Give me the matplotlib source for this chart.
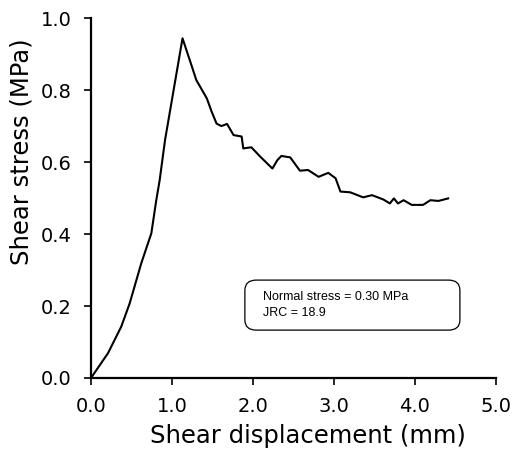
import matplotlib
matplotlib.use("Agg")
import matplotlib.pyplot as plt
from matplotlib.patches import FancyBboxPatch

plt.rcParams['font.family'] = ['DejaVu Sans']

disp = [0.0, 0.21, 0.374, 0.477, 0.621, 0.745, 0.806, 0.848, 0.914, 1.13,
        1.22, 1.30, 1.43, 1.49, 1.55, 1.61, 1.68, 1.76, 1.86, 1.88, 1.98,
        2.09, 2.24, 2.30, 2.35, 2.46, 2.58, 2.68, 2.81, 2.93, 3.02, 3.08,
        3.2, 3.36, 3.47, 3.61, 3.69, 3.74, 3.79, 3.86, 3.96, 4.10,
        4.19, 4.29, 4.41]
stress = [0.0, 0.069, 0.143, 0.207, 0.319, 0.402, 0.494, 0.55, 0.661, 0.944,
          0.883, 0.828, 0.777, 0.740, 0.707, 0.700, 0.706, 0.675, 0.671, 0.638, 0.641,
          0.615, 0.582, 0.605, 0.617, 0.613, 0.576, 0.578, 0.559, 0.570, 0.555, 0.518,
          0.516, 0.502, 0.508, 0.496, 0.485, 0.499, 0.485, 0.494, 0.481, 0.481,
          0.494, 0.492, 0.499]

xticks = [0.0, 1.0, 2.0, 3.0, 4.0, 5.0]
yticks = [0.0, 0.2, 0.4, 0.6, 0.8, 1.0]
annotation = 'Normal stress = 0.30 MPa\nJRC = 18.9'

fig = plt.figure(figsize=(5.15, 4.53), dpi=100)
ax = fig.add_axes([0.1767, 0.1656, 0.963 - 0.1767, 0.960 - 0.1656])
ax.plot(disp, stress, color='black', lw=1.5)
ax.set_xlim(0, 5)
ax.set_ylim(0, 1)
ax.set_xticks(xticks)
ax.set_yticks(yticks)
ax.set_xticklabels([f"{v:.1f}" for v in xticks])
ax.set_yticklabels([f"{v:.1f}" for v in yticks])
ax.tick_params(direction='out', length=5, width=1.2, labelsize=14)
ax.tick_params(axis='y', pad=9)
ax.tick_params(axis='x', pad=9)
for s in ['top', 'right']:
    ax.spines[s].set_visible(False)
for s in ['left', 'bottom']:
    ax.spines[s].set_linewidth(1.6)
ax.set_xlabel('Shear displacement (mm)', fontsize=17.5)
ax.set_ylabel('Shear stress (MPa)', fontsize=17.5)
ax.xaxis.set_label_coords(0.535, -0.128)
ax.yaxis.set_label_coords(-0.141, 0.628)

box = FancyBboxPatch((0.380, 0.133), 0.911 - 0.380, 0.272 - 0.133,
                     boxstyle='round,pad=0,rounding_size=0.028',
                     transform=ax.transAxes, fc='white', ec='black', lw=0.9)
ax.add_patch(box)
ax.text(2.12, 0.203, annotation, fontsize=9, family=['Liberation Sans'],
        va='center', ha='left', linespacing=1.35)

fig.savefig('out.png', dpi=100)
